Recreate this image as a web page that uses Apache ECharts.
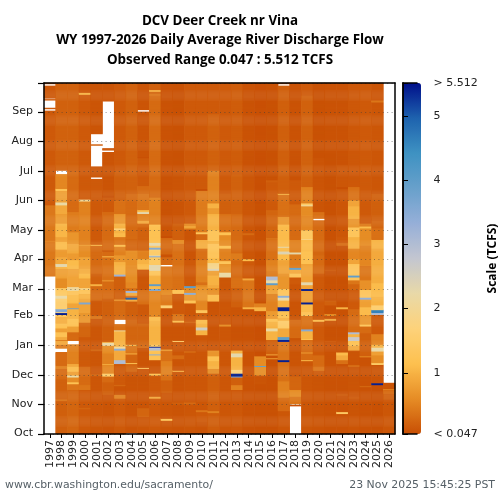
<!DOCTYPE html>
<html>
<head>
<meta charset="utf-8">
<title>DCV Deer Creek nr Vina</title>
<style>
  html, body { margin: 0; padding: 0; background: #fff; }
  #chart { width: 500px; height: 500px; }
</style>
<script src="https://cdn.jsdelivr.net/npm/echarts@6/dist/echarts.min.js"></script>
</head>
<body>
<div id="chart"></div>
<script>
// water years along the x axis
var years = ['1997','1998','1999','2000','2001','2002','2003','2004','2005','2006','2007','2008','2009','2010','2011',
             '2012','2013','2014','2015','2016','2017','2018','2019','2020','2021','2022','2023','2024','2025','2026'];

// months along the y axis, day of the water year each one starts on
var monthNames = ['Oct','Nov','Dec','Jan','Feb','Mar','Apr','May','Jun','Jul','Aug','Sep'];
var monthStarts = [0,31,61,92,123,151,182,212,243,273,304,335];

// colourbar
var scaleMin = 0.047;
var scaleMax = 5.512;
var scaleTicks = [0.047,1,2,3,4,5,5.512];
var scaleColors = ['#c84f04','#e68c25','#fdc04f','#fdd27a','#e9d9a8','#c3c6d0','#96afd8','#68a0cb','#3e92c2','#1e62ae','#000f8a'];

// discharge, one list per water year
// each entry is [first day of the run, TCFS], null = no data
var wy1997 = [[0,null],[164,.42],[200,.5],[201,.42],[238,.15],[336,null],[338,.15],[339,null],[347,.15],[348,null],[349,.13],[362,null],[364,.1]];
var wy1998 = [[0,.2],[35,.5],[36,.22],[57,.3],[68,.5],[71,.3],[85,null],[89,.45],[93,.9],[97,.45],[98,.9],[101,1.2],[106,.8],[110,1.2],[115,.95],[122,1.3],[124,5.4],[126,1.8],[127,3.5],[130,1.6],[141,2.2],[144,1.4],[152,.6],[162,.8],[172,1],[174,2.3],[177,.9],[184,.75],[192,1.1],[200,.85],[205,1.05],[219,.75],[229,.9],[238,2.2],[241,.8],[253,1.2],[255,.55],[270,null],[274,.22]];
var wy1999 = [[0,.25],[46,.4],[52,1.2],[54,.6],[59,2.2],[61,.8],[65,1.1],[70,.9],[73,.5],[93,null],[97,.3],[106,.8],[112,1.2],[120,1],[130,3.8],[131,.85],[136,1.1],[145,1.3],[149,2.1],[153,.85],[172,1.1],[181,.75],[188,.9],[198,.7],[210,.45],[231,.3],[273,.22]];
var wy2000 = [[0,.15],[26,.3],[27,.15],[46,.4],[51,.3],[70,.15],[101,.25],[116,.7],[126,.85],[135,3.6],[137,.9],[141,1],[146,1.3],[150,1.8],[152,.85],[162,1.1],[167,.95],[172,.85],[184,.6],[196,.8],[197,.5],[242,2],[244,.15],[353,1],[355,.12]];
var wy2001 = [[0,.12],[61,.4],[62,.12],[87,.35],[88,.12],[120,.4],[123,.15],[139,.3],[154,1],[156,.22],[167,.3],[196,1.1],[197,.2],[200,.15],[265,null],[267,.1],[278,null],[300,.2],[301,null],[312,.1]];
var wy2002 = [[0,.1],[41,.2],[54,.3],[60,1.5],[63,.55],[72,.9],[73,.5],[84,.6],[92,2.2],[95,.9],[96,.2],[141,.3],[159,.8],[160,.35],[184,1.1],[185,.3],[190,.05],[191,.3],[231,.15],[246,.05],[248,.1],[293,null],[295,.1],[297,null],[346,.1]];
var wy2003 = [[0,.15],[37,.5],[41,.1],[50,.3],[51,.15],[73,3],[77,.9],[87,3.5],[89,2],[91,1],[107,2.2],[108,.35],[114,null],[119,.3],[139,.9],[140,.2],[164,3.3],[166,1],[179,.7],[186,.5],[195,1.1],[197,.4],[205,1.1],[209,1],[212,1.7],[214,1],[219,.7],[229,.35],[243,.2],[274,.15]];
var wy2004 = [[0,null],[1,.1],[65,.25],[73,1.2],[74,.25],[83,1],[84,.4],[92,1.2],[93,.25],[119,.2],[138,.9],[140,5],[142,.35],[144,.9],[147,3.2],[149,.35],[152,.55],[158,.6],[174,.65],[191,.25],[203,.3],[250,.22]];
var wy2005 = [[0,.12],[18,.25],[27,.1],[68,1.3],[69,.1],[90,.4],[91,.25],[115,.15],[135,.35],[150,.12],[171,.8],[172,1.1],[177,1],[182,.5],[191,.22],[215,.3],[219,.9],[222,.5],[229,2.3],[231,1.1],[233,.4],[250,.3],[258,.15],[287,.05],[288,.1],[335,null],[337,.1]];
var wy2006 = [[0,.15],[37,.9],[39,.15],[61,1.2],[63,.1],[77,1.2],[82,3.5],[83,1.2],[87,3],[90,5.4],[91,1.3],[93,1],[118,1.1],[122,.55],[149,3.6],[151,1.1],[154,4],[156,1],[165,1.3],[170,2.3],[176,1.4],[184,3.5],[185,2.3],[186,1.5],[192,3.6],[194,1.3],[196,2.3],[199,1.2],[218,.5],[246,.3],[292,.3],[352,.4],[354,.25],[356,.9],[358,.2]];
var wy2007 = [[0,.12],[14,1.2],[16,.12],[43,.2],[56,.35],[62,.5],[76,.35],[87,1],[88,.1],[131,1.6],[134,.45],[145,.6],[150,.4],[174,null],[176,.3],[184,.08],[187,.25],[193,.3],[204,.03],[206,.1],[220,.08]];
var wy2008 = [[0,.1],[31,.2],[33,.1],[65,1.1],[66,.1],[78,.3],[82,.12],[96,1.5],[97,.1],[116,.9],[117,1.2],[118,.4],[125,.15],[146,1.2],[150,.35],[198,.6],[202,.2],[219,.1],[274,.07]];
var wy2009 = [[0,.12],[31,.3],[33,.12],[85,.4],[86,.1],[116,.3],[117,.12],[136,1.2],[139,.7],[145,3.5],[147,.6],[152,4],[154,.15],[181,.1],[213,.6],[215,1.1],[216,.6],[219,.15]];
var wy2010 = [[0,.1],[13,.15],[23,.4],[25,.12],[103,1],[108,2.6],[111,1],[115,1.1],[119,.2],[126,1.3],[129,.55],[139,.7],[153,.6],[155,.35],[158,.5],[181,.35],[193,.95],[202,.3],[208,1.3],[210,.45],[253,.03],[255,.15]];
var wy2011 = [[0,.18],[22,.5],[24,.2],[63,.6],[68,1],[76,1.2],[81,.7],[87,.1],[138,1.1],[145,.65],[152,.9],[155,1],[165,.8],[170,2.4],[172,1.9],[178,1.1],[183,1.3],[198,1],[201,1.3],[212,1],[229,.75],[235,1],[240,.5],[274,.22],[333,.15]];
var wy2012 = [[0,.12],[112,.6],[114,.12],[163,2.2],[168,.7],[177,1.3],[180,.5],[193,1.2],[196,.6],[207,1.2],[210,.35],[229,.2],[250,.15]];
var wy2013 = [[0,.13],[46,.5],[51,.2],[59,3.5],[60,5.4],[63,1.7],[67,1],[80,2.3],[84,1],[87,.08],[120,.1],[132,.2],[152,.35],[163,.3],[181,.45],[188,.3],[229,.22],[270,.17]];
var wy2014 = [[0,.08],[130,1],[132,.4],[160,.9],[162,.15],[180,1.1],[182,.12],[207,.3],[209,.12],[274,.08]];
var wy2015 = [[0,.07],[52,.1],[61,.6],[70,4],[71,.6],[81,.06],[128,1],[132,.5],[136,.07],[240,.06]];
var wy2016 = [[0,.07],[78,.8],[79,.07],[82,.9],[83,.2],[98,1],[107,2.2],[110,1],[117,1.2],[120,.75],[128,.5],[146,.85],[155,4],[157,2.2],[160,3],[164,.45],[170,.5],[181,.35],[203,.4],[204,.25],[233,.15],[262,.2],[264,.07]];
var wy2017 = [[0,.12],[24,.3],[38,.5],[55,.35],[75,5.4],[77,.4],[96,5.4],[98,4],[101,.9],[110,1.5],[118,1],[121,1.2],[128,5.4],[132,1],[139,2.2],[142,3.5],[144,1.3],[151,.7],[167,.85],[181,1.1],[187,2.4],[190,1.1],[194,2.3],[195,1.1],[218,.7],[226,.35],[249,1],[250,.2],[362,null],[364,.1]];
var wy2018 = [[0,null],[29,.05],[30,null],[31,.4],[39,.6],[46,.25],[60,.1],[100,.3],[119,.1],[156,.15],[163,1.3],[167,.9],[171,4],[173,.45],[187,2.3],[189,.5],[202,.3],[239,.15],[264,.08]];
var wy2019 = [[0,.12],[76,1.1],[77,.3],[84,.8],[85,.3],[98,1.2],[99,1],[107,3.5],[109,.35],[123,1.3],[127,1.1],[135,5.4],[137,.8],[149,5.4],[151,.85],[155,2.3],[158,.85],[177,1.2],[190,1.1],[202,1.8],[203,1.4],[212,.55],[227,.6],[237,2.2],[238,1.5],[240,.5],[257,.22],[352,.15]];
var wy2020 = [[0,.1],[61,.15],[66,.4],[70,.3],[82,.15],[117,1.1],[119,.15],[167,.3],[186,.25],[190,.3],[222,null],[224,.35],[231,.1],[287,.07]];
var wy2021 = [[0,.08],[96,.15],[97,.07],[118,.9],[120,.07],[123,.6],[125,.07],[134,.2],[139,.07],[170,.15],[171,.07],[292,.08]];
var wy2022 = [[0,.08],[21,1.4],[23,.08],[40,.15],[42,.08],[73,.35],[77,.9],[82,1.1],[85,.07],[130,1],[132,.07],[196,.3],[199,.15],[205,.12],[255,.05],[257,.12],[280,.08]];
var wy2023 = [[0,.1],[37,.15],[39,.1],[70,.3],[72,.1],[87,.9],[92,1.2],[97,2.7],[101,1],[104,3],[106,.3],[130,.15],[150,.25],[156,.4],[160,1.3],[163,4],[165,1.3],[177,.85],[182,.55],[193,1],[205,1.3],[215,.7],[224,1],[237,.85],[243,.35],[257,.13]];
var wy2024 = [[0,.08],[49,.3],[50,.08],[80,.6],[81,.2],[105,.3],[112,1.3],[114,.7],[124,1.1],[132,.8],[140,3.4],[142,1.3],[150,.65],[160,.4],[175,.55],[182,.5],[196,.6],[214,1.1],[216,.45],[219,.15]];
var wy2025 = [[0,.07],[51,5.4],[53,.1],[72,1.4],[74,.6],[82,.8],[86,2.2],[90,1],[93,.5],[104,.15],[124,3],[126,4.6],[129,1.6],[134,1],[143,1.1],[157,.95],[182,.9],[193,1],[202,.35],[214,.25],[222,.2],[250,.12],[345,.4],[347,.1]];
var wy2026 = [[0,.12],[36,.2],[42,.3],[46,.5],[47,.1],[53,null]];

var yearRuns = [wy1997,wy1998,wy1999,wy2000,wy2001,wy2002,wy2003,wy2004,wy2005,wy2006,wy2007,wy2008,wy2009,wy2010,wy2011,
                wy2012,wy2013,wy2014,wy2015,wy2016,wy2017,wy2018,wy2019,wy2020,wy2021,wy2022,wy2023,wy2024,wy2025,wy2026];

// day categories and heatmap cells, each run holds until the next one starts
var dayLabels = [];
for (var d = 0; d < 365; d++) {
    var m = monthStarts.indexOf(d);
    dayLabels.push(m >= 0 ? monthNames[m] : '');
}
var cells = [];
yearRuns.forEach(function (runs, x) {
    runs.forEach(function (run, r) {
        var end = r + 1 < runs.length ? runs[r + 1][0] : 365;
        if (run[1] === null) return;
        for (var day = run[0]; day < end; day++) {
            cells.push([x, day, run[1]]);
        }
    });
});

var fontName = 'DejaVu Sans';
var axisBlack = { show: true, lineStyle: { color: '#000', width: 1.5 } };

function isMonthStart(index) {
    return monthStarts.indexOf(index) >= 0;
}

var myecharts = echarts.init(document.getElementById('chart'), null, { renderer: 'canvas' });
myecharts.setOption({
    animation: false,
    backgroundColor: '#fff',
    textStyle: { fontFamily: fontName },
    title: [{
        text: 'DCV Deer Creek nr Vina\nWY 1997-2026 Daily Average River Discharge Flow\nObserved Range 0.047 : 5.512 TCFS',
        left: 220, top: 11, textAlign: 'center', padding: 0,
        textStyle: { fontFamily: 'Open Sans', fontWeight: 'bold', fontSize: 13.4, lineHeight: 19.5, color: '#000' }
    }, {
        text: 'www.cbr.washington.edu/sacramento/',
        left: 5, top: 480, padding: 0,
        textStyle: { fontSize: 10.9, fontWeight: 'normal', color: '#555f66' }
    }, {
        text: '23 Nov 2025 15:45:25 PST',
        right: 5, top: 480, padding: 0,
        textStyle: { fontSize: 10.9, fontWeight: 'normal', color: '#555f66' }
    }],
    grid: [
        { left: 44, top: 83, width: 351, height: 351 },
        { left: 403, top: 83, width: 18, height: 351 }
    ],
    xAxis: [{
        type: 'category', gridIndex: 0, data: years, position: 'bottom', z: 5,
        axisLine: axisBlack,
        axisTick: { show: true, alignWithLabel: true, length: 4, lineStyle: { color: '#000' } },
        axisLabel: { interval: 0, rotate: 90, fontSize: 11, margin: 6, color: '#222' },
        splitLine: { show: false }
    }, {
        type: 'category', gridIndex: 0, data: years, position: 'top', z: 5,
        axisLine: axisBlack, axisTick: { show: false }, axisLabel: { show: false }, splitLine: { show: false }
    }, {
        type: 'value', gridIndex: 1, min: 0, max: 1, position: 'bottom', z: 5,
        axisLine: axisBlack, axisTick: { show: false }, axisLabel: { show: false }, splitLine: { show: false }
    }, {
        type: 'value', gridIndex: 1, min: 0, max: 1, position: 'top', z: 5,
        axisLine: axisBlack, axisTick: { show: false }, axisLabel: { show: false }, splitLine: { show: false }
    }],
    yAxis: [{
        type: 'category', gridIndex: 0, data: dayLabels, position: 'left', z: 5,
        axisLine: axisBlack,
        axisTick: { show: true, interval: isMonthStart, length: 6, lineStyle: { color: '#000', width: 1.2 } },
        axisLabel: { interval: isMonthStart, fontSize: 11, margin: 11, color: '#222', showMinLabel: true, hideOverlap: false },
        splitLine: { show: true, interval: isMonthStart, lineStyle: { color: 'rgba(60,60,60,0.55)', width: 1, type: [1, 3.4] } }
    }, {
        type: 'category', gridIndex: 0, data: dayLabels, position: 'right', z: 5,
        axisLine: axisBlack, axisTick: { show: false }, axisLabel: { show: false }, splitLine: { show: false }
    }, {
        type: 'value', gridIndex: 1, min: 0, max: 1, position: 'left', z: 5,
        axisLine: axisBlack, axisTick: { show: false }, axisLabel: { show: false }, splitLine: { show: false }
    }, {
        type: 'value', gridIndex: 1, min: scaleMin, max: scaleMax, position: 'right', z: 5,
        name: 'Scale (TCFS)', nameLocation: 'middle', nameGap: 70, nameRotate: 90,
        nameTextStyle: { fontFamily: 'Open Sans', fontWeight: 'bold', fontSize: 12, color: '#000' },
        axisLine: axisBlack,
        axisTick: { show: true, customValues: scaleTicks, length: 5, lineStyle: { color: '#000' } },
        axisLabel: {
            customValues: scaleTicks, fontSize: 11, margin: 16.5, color: '#222',
            formatter: function (v) {
                if (v === scaleMin) return '< ' + scaleMin;
                if (v === scaleMax) return '> ' + scaleMax;
                return String(v);
            }
        },
        splitLine: { show: false }
    }],
    visualMap: {
        type: 'continuous', seriesIndex: 0, min: scaleMin, max: scaleMax,
        left: 403, top: 83, itemWidth: 18, itemHeight: 351, padding: 0, z: 0,
        calculable: false, hoverLink: false, showLabel: false, text: ['', ''],
        inRange: { color: scaleColors }
    },
    series: [{
        type: 'heatmap',
        xAxisIndex: 0,
        yAxisIndex: 0,
        data: cells,
        progressive: 0,
        itemStyle: { borderWidth: 0 },
        emphasis: { disabled: true }
    }]
});
</script>
</body>
</html>
